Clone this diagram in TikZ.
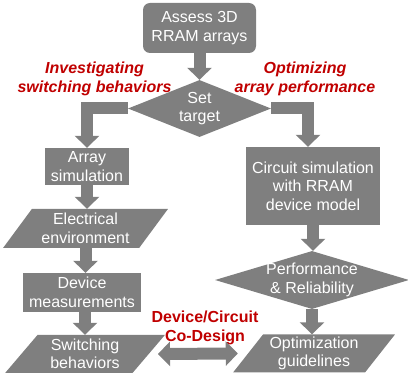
\documentclass[tikz,border=0pt]{standalone}
\usepackage{fontspec}
\setmainfont{Liberation Sans}
\usetikzlibrary{shapes.geometric, arrows.meta, positioning}
\definecolor{boxgray}{RGB}{127, 127, 127}
\definecolor{notered}{RGB}{192, 0, 0}

\begin{document}
\begin{tikzpicture}[x=1pt, y=-1pt,
  every node/.style={font=\fontsize{16}{18.5}\selectfont, align=center},
  stepbox/.style={fill=boxgray, text=white, inner sep=0pt},
  decision/.style={diamond, fill=boxgray, inner sep=0pt},
  dataio/.style={trapezium, trapezium left angle=52, trapezium right angle=128,
    trapezium stretches=true, fill=boxgray, text=white, inner sep=0pt,
    minimum width=163pt, minimum height=39pt},
  flow/.style={line width=12pt, draw=boxgray, -{Triangle[width=24pt, length=12pt]}},
  twoway/.style={line width=12pt, draw=boxgray,
    {Triangle[width=24pt, length=12pt]}-{Triangle[width=24pt, length=12pt]}},
  note/.style={text=notered, font=\fontsize{16}{19}\selectfont\bfseries\itshape}
]
  \useasboundingbox (0,0) rectangle (408,382);

  % Start and target
  \node[stepbox, rounded corners=7pt, minimum width=113pt, minimum height=50pt] (assess) at (199.5, 28) {Assess 3D\\RRAM arrays};
  \node[decision, minimum width=143pt, minimum height=57pt] (target) at (199.5, 108.5) {};
  \node[text=white] (targetlabel) at (target) {Set\\target};

  % Branch labels
  \node[note] (investigate) at (94.5, 79) {Investigating\\switching behaviors};
  \node[note] (optimize) at (305, 79) {Optimizing\\array performance};

  % Left branch
  \node[stepbox, minimum width=84pt, minimum height=37pt] (arraysim) at (87, 166.5) {Array\\simulation};
  \node[dataio, minimum width=165pt] (electrical) at (85.5, 228.5) {Electrical\\environment};
  \node[stepbox, minimum width=118pt, minimum height=39pt] (device) at (82, 292.5) {Device\\measurements};
  \node[dataio, minimum width=160pt, minimum height=38pt] (switching) at (85, 354) {Switching\\behaviors};

  % Right branch
  \node[stepbox, minimum width=134pt, minimum height=78pt] (circuit) at (313, 186) {Circuit simulation\\with RRAM\\device model};
  \node[decision, minimum width=194pt, minimum height=58pt] (perf) at (312, 280) {};
  \node[text=white] (perflabel) at (perf) {Performance\\\& Reliability};
  \node[dataio, minimum width=162pt, minimum height=38pt] (guidelines) at (314, 353.5) {Optimization\\guidelines};

  % Co-design
  \node[note, font=\fontsize{16}{19}\selectfont\bfseries] (codesign) at (205, 328) {Device/Circuit\\Co-Design};

  % Arrows
  \draw[flow] (assess.south) -- (target.north);
  \draw[flow] (target.west) -| (arraysim.north);
  \draw[flow] (target.east) -| ([xshift=-5pt]circuit.north);
  \draw[flow] (arraysim.south) -- (arraysim.south |- electrical.north);
  \draw[flow] (electrical.south) -- (electrical.south |- device.north);
  \draw[flow] (switching.north |- device.south) -- (switching.north);
  \draw[flow] (circuit.south) -- (circuit.south |- perf.north);
  \draw[flow] (perf.south) -- (perf.south |- guidelines.north);
  \draw[twoway] ([xshift=9pt]switching.east) -- ([xshift=-10pt]guidelines.west);
\end{tikzpicture}
\end{document}
